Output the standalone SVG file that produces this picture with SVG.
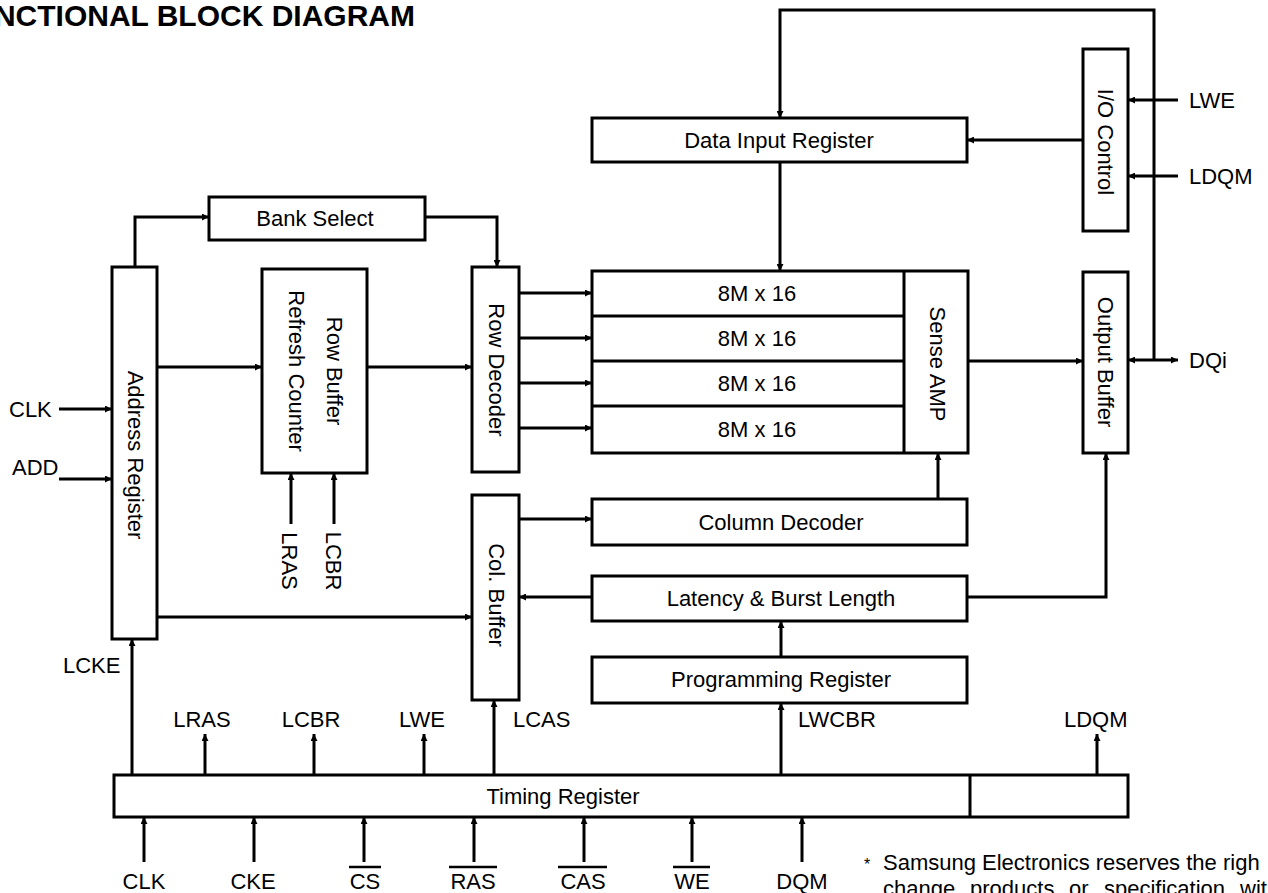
<svg xmlns="http://www.w3.org/2000/svg" width="1268" height="893" viewBox="0 0 1268 893">
<style>
.b{fill:#fff;stroke:#000;stroke-width:3}
.t{font-family:"Liberation Sans",Arial,sans-serif;font-size:22px;fill:#000}
.c{text-anchor:middle;dominant-baseline:central}
.w{fill:none;stroke:#000;stroke-width:3}
.a{marker-end:url(#ah)}
</style>
<defs>
<marker id="ah" viewBox="0 0 10 10" refX="10" refY="5" markerWidth="8" markerHeight="7" orient="auto" markerUnits="userSpaceOnUse">
<path d="M0,0 L10,5 L0,10 z" fill="#000"/>
</marker>
<marker id="as" viewBox="0 0 10 10" refX="0" refY="5" markerWidth="8" markerHeight="7" orient="auto" markerUnits="userSpaceOnUse">
<path d="M10,0 L0,5 L10,10 z" fill="#000"/>
</marker>
</defs>
<rect width="1268" height="893" fill="#fff"/>
<text class="t" x="415" y="26" text-anchor="end" style="font-size:30px;font-weight:bold">NCTIONAL BLOCK DIAGRAM</text>

<g id="connectors">
<path class="w a" d="M1154,360 V10 H780 V118"/>
<path class="w a" d="M1083,140 H967"/>
<path class="w a" d="M1178,100 H1128"/>
<path class="w a" d="M1178,176 H1128"/>
<path class="w a" d="M1154,360 H1178"/>
<path class="w a" d="M1154,360 H1128"/>
<path class="w a" d="M780,162 V271"/>
<path class="w a" d="M135,267 V217 H209"/>
<path class="w a" d="M425,217 H497 V267"/>
<path class="w a" d="M157,367 H262"/>
<path class="w a" d="M367,367 H472"/>
<path class="w a" d="M519,293 H592"/>
<path class="w a" d="M519,338 H592"/>
<path class="w a" d="M519,383 H592"/>
<path class="w a" d="M519,428 H592"/>
<path class="w a" d="M968,361 H1083"/>
<path class="w a" d="M938,499 V453"/>
<path class="w a" d="M519,519 H592"/>
<path class="w a" d="M592,597 H519"/>
<path class="w a" d="M967,597 H1106 V453"/>
<path class="w a" d="M781,657 V621"/>
<path class="w a" d="M157,617 H472"/>
<path class="w a" d="M291,524 V473"/>
<path class="w a" d="M334,524 V473"/>
<path class="w a" d="M59,409 H112"/>
<path class="w a" d="M59,479 H112"/>
<path class="w a" d="M132,775 V639"/>
<path class="w a" d="M205,775 V734"/>
<path class="w a" d="M314,775 V734"/>
<path class="w a" d="M424,775 V734"/>
<path class="w a" d="M494,775 V700"/>
<path class="w a" d="M781,775 V703"/>
<path class="w a" d="M1097,775 V734"/>
<path class="w a" d="M144,862 V817"/>
<path class="w a" d="M254,862 V817"/>
<path class="w a" d="M364,862 V817"/>
<path class="w a" d="M474,862 V817"/>
<path class="w a" d="M584,862 V817"/>
<path class="w a" d="M692,862 V817"/>
<path class="w a" d="M802,862 V817"/>
</g>

<g id="data-input-register">
<rect class="b" x="592" y="118" width="375" height="44"/>
<text class="t c" x="779" y="140">Data Input Register</text>
</g>
<g id="io-control">
<rect class="b" x="1083" y="49" width="45" height="182"/>
<text class="t c" transform="translate(1105,142) rotate(90)">I/O Control</text>
</g>
<g id="bank-select">
<rect class="b" x="209" y="197" width="216" height="43"/>
<text class="t c" x="315" y="218">Bank Select</text>
</g>
<g id="address-register">
<rect class="b" x="112" y="267" width="45" height="372"/>
<text class="t c" transform="translate(135,455) rotate(90)">Address Register</text>
</g>
<g id="row-buffer">
<rect class="b" x="262" y="269" width="105" height="204"/>
<text class="t c" transform="translate(334,371) rotate(90)">Row Buffer</text>
<text class="t c" transform="translate(296,371) rotate(90)">Refresh Counter</text>
</g>
<g id="row-decoder">
<rect class="b" x="472" y="267" width="47" height="205"/>
<text class="t c" transform="translate(496,370) rotate(90)">Row Decoder</text>
</g>
<g id="memory-array">
<rect class="b" x="592" y="271" width="376" height="182"/>
<path class="w" d="M592,316 H904 M592,361 H904 M592,406 H904 M904,271 V453"/>
<text class="t c" x="757" y="293">8M x 16</text>
<text class="t c" x="757" y="338">8M x 16</text>
<text class="t c" x="757" y="383">8M x 16</text>
<text class="t c" x="757" y="429">8M x 16</text>
</g>
<g id="sense-amp">
<text class="t c" transform="translate(937,364) rotate(90)">Sense AMP</text>
</g>
<g id="output-buffer">
<rect class="b" x="1083" y="272" width="45" height="181"/>
<text class="t c" transform="translate(1105,362) rotate(90)">Output Buffer</text>
</g>
<g id="col-buffer">
<rect class="b" x="472" y="495" width="47" height="205"/>
<text class="t c" transform="translate(496,595) rotate(90)">Col. Buffer</text>
</g>
<g id="column-decoder">
<rect class="b" x="592" y="499" width="375" height="46"/>
<text class="t c" x="781" y="522">Column Decoder</text>
</g>
<g id="latency">
<rect class="b" x="592" y="576" width="375" height="45"/>
<text class="t c" x="781" y="598">Latency &amp; Burst Length</text>
</g>
<g id="programming-register">
<rect class="b" x="592" y="657" width="375" height="46"/>
<text class="t c" x="781" y="679">Programming Register</text>
</g>
<g id="timing-register">
<rect class="b" x="114" y="775" width="1014" height="42"/>
<path class="w" d="M970,775 V817"/>
<text class="t c" x="563" y="796">Timing Register</text>
</g>

<g id="labels">
<text class="t" x="1189" y="108">LWE</text>
<text class="t" x="1189" y="184">LDQM</text>
<text class="t" x="1189" y="368">DQi</text>
<text class="t" x="9" y="417">CLK</text>
<text class="t" x="12" y="475">ADD</text>
<text class="t" x="63" y="673">LCKE</text>
<text class="t c" transform="translate(289,561) rotate(90)">LRAS</text>
<text class="t c" transform="translate(333,561) rotate(90)">LCBR</text>
<text class="t" x="202" y="727" text-anchor="middle">LRAS</text>
<text class="t" x="311" y="727" text-anchor="middle">LCBR</text>
<text class="t" x="422" y="727" text-anchor="middle">LWE</text>
<text class="t" x="513" y="727">LCAS</text>
<text class="t" x="798" y="727">LWCBR</text>
<text class="t" x="1064" y="727">LDQM</text>
<text class="t" x="144" y="889" text-anchor="middle">CLK</text>
<text class="t" x="253" y="889" text-anchor="middle">CKE</text>
<text class="t" x="365" y="889" text-anchor="middle">CS</text>
<text class="t" x="473" y="889" text-anchor="middle">RAS</text>
<text class="t" x="583" y="889" text-anchor="middle">CAS</text>
<text class="t" x="692" y="889" text-anchor="middle">WE</text>
<text class="t" x="802" y="889" text-anchor="middle">DQM</text>
<path d="M349,867 H381 M449,867 H497 M558,867 H607 M673,867 H710" stroke="#000" stroke-width="2.5"/>
<text class="t" x="864" y="870" style="font-size:16px">*</text>
<text class="t" x="883" y="870">Samsung Electronics reserves the righ</text>
<text class="t" y="896"><tspan x="883">change</tspan><tspan x="970">products</tspan><tspan x="1069">or</tspan><tspan x="1104">specification</tspan><tspan x="1240">wit</tspan></text>
</g>
</svg>
